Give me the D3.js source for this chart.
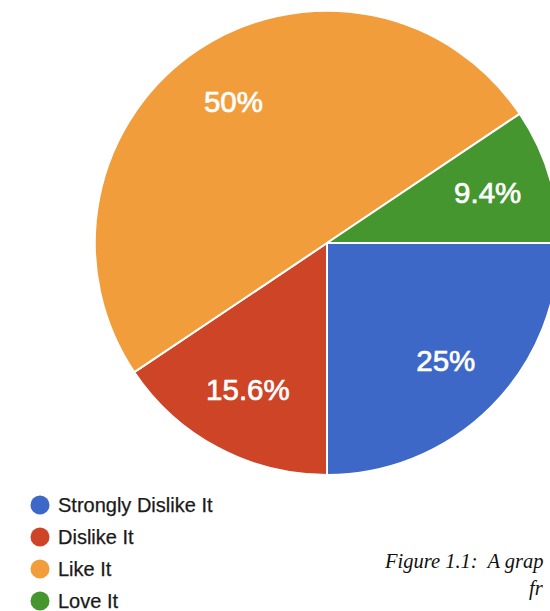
<!DOCTYPE html>
<html><head><meta charset="utf-8">
<script src="https://cdn.jsdelivr.net/npm/d3@7"></script>
<style>html,body{margin:0;padding:0;background:#fff;overflow:hidden}</style>
</head><body>
<svg id="c" width="550" height="611"></svg>
<script>
const categories = ["Strongly Dislike It", "Dislike It", "Like It", "Love It"];
const values = [25, 15.6, 50, 9.4];
const labels = ["25%", "15.6%", "50%", "9.4%"];
const colors = ["#3e68c7", "#cd4427", "#f29d3b", "#46962f"];
const captionLines = ["Figure 1.1:  A grap", "fr"];

const svg = d3.select("#c");
const cx = 327, cy = 243, R = 232;
const g = svg.append("g").attr("transform", `translate(${cx},${cy})`);
const pie = d3.pie().sort(null).value(d => d).startAngle(Math.PI/2).endAngle(Math.PI/2 + 2*Math.PI);
const arcs = pie(values);
const arc = d3.arc().innerRadius(0).outerRadius(R);
const labelArc = d3.arc().innerRadius(168).outerRadius(168);
g.selectAll("path").data(arcs).join("path")
  .attr("d", arc).attr("fill", (d,i) => colors[i])
  .attr("stroke", "#fff").attr("stroke-width", 2).attr("stroke-linejoin","round");
g.selectAll("text").data(arcs).join("text")
  .attr("transform", d => `translate(${labelArc.centroid(d)})`)
  .attr("text-anchor", "middle").attr("dy", "0.3em")
  .attr("fill", "#fff").attr("font-family", "Liberation Sans, Arial, sans-serif")
  .attr("font-size", 29.5).attr("stroke", "#fff").attr("stroke-width", 0.7)
  .text((d,i) => labels[i]);

const leg = svg.append("g");
const ly = d3.scaleBand().domain(categories).range([489, 617]);
const item = leg.selectAll("g").data(categories).join("g")
  .attr("transform", d => `translate(0,${ly(d) + ly.bandwidth()/2})`);
item.append("circle").attr("cx", 40).attr("r", 9.5).attr("fill", (d,i) => colors[i]);
item.append("text").attr("x", 58).attr("dy", "0.36em")
  .attr("font-family", "Liberation Sans, Arial, sans-serif").attr("font-size", 20)
  .attr("fill", "#1a1a1a").attr("stroke", "#1a1a1a").attr("stroke-width", 0.25).text(d => d);

const cap = svg.append("g").attr("font-family", "Liberation Serif, Times New Roman, serif")
  .attr("font-style", "italic").attr("font-size", 20.5).attr("fill", "#111");
cap.append("text").attr("x", 385).attr("y", 568).attr("xml:space","preserve").text(captionLines[0]);
cap.append("text").attr("x", 529).attr("y", 595).text(captionLines[1]);
</script>
</body></html>
